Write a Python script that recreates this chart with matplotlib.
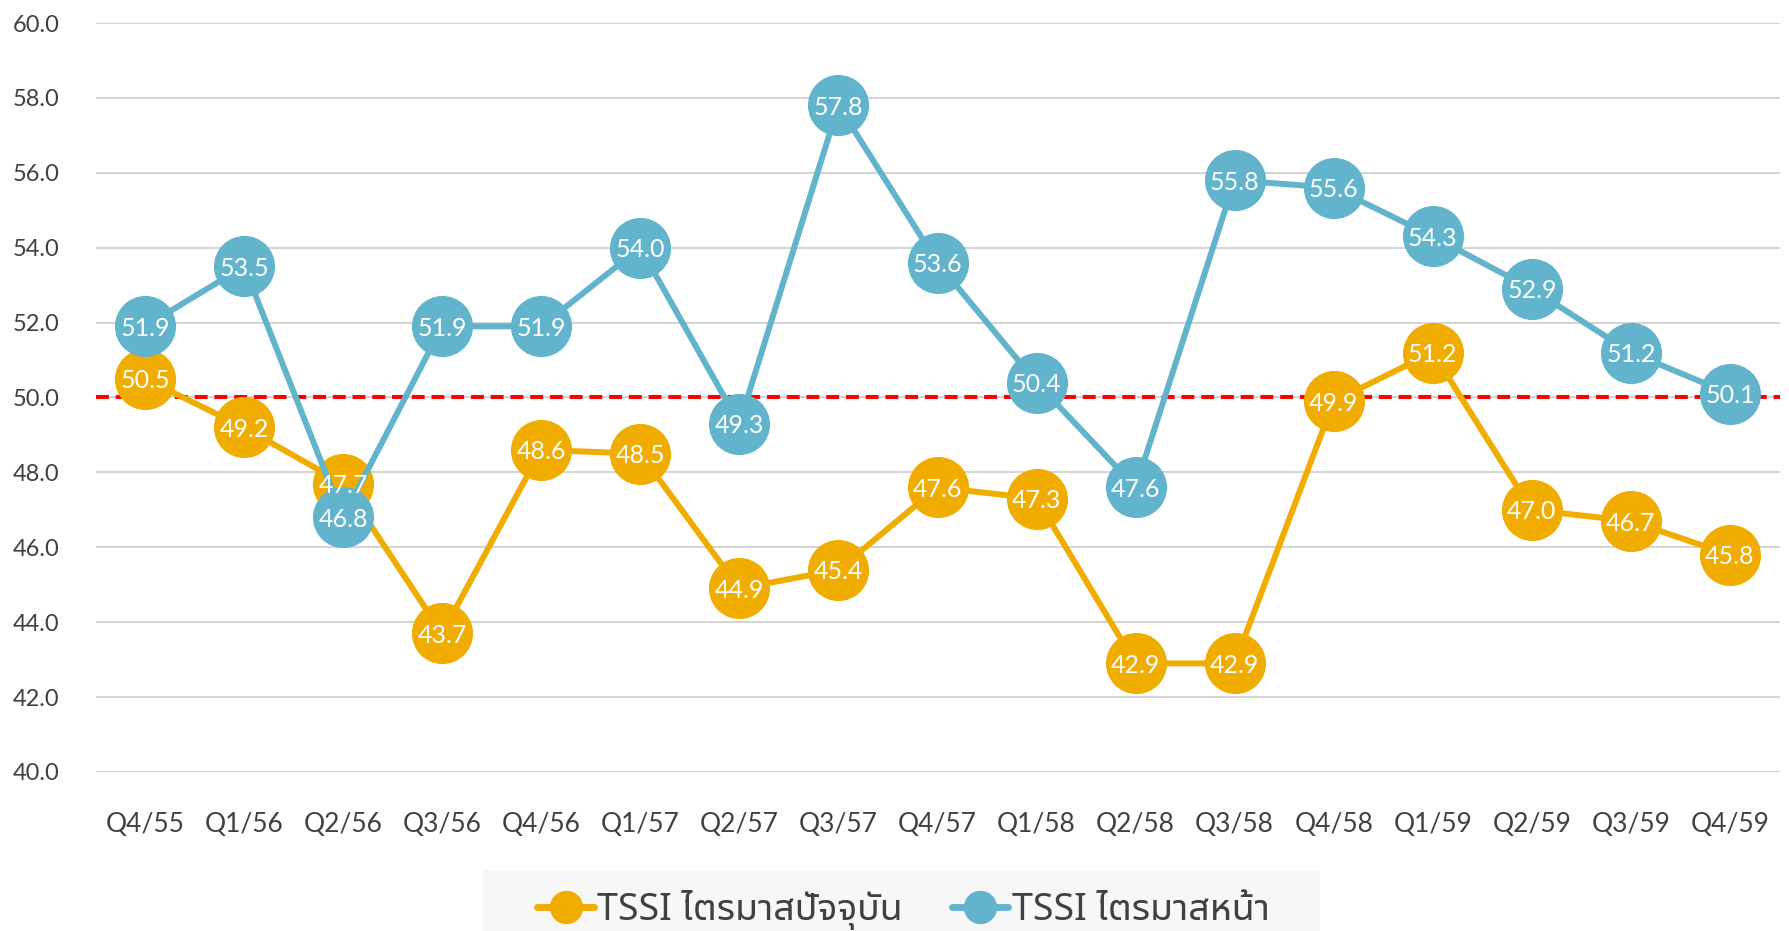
import matplotlib
matplotlib.use("Agg")
import matplotlib.pyplot as plt
from matplotlib.lines import Line2D
from matplotlib.patches import Rectangle

quarters = ["Q4/55", "Q1/56", "Q2/56", "Q3/56", "Q4/56", "Q1/57", "Q2/57", "Q3/57", "Q4/57",
            "Q1/58", "Q2/58", "Q3/58", "Q4/58", "Q1/59", "Q2/59", "Q3/59", "Q4/59"]
tssi_current = [50.5, 49.2, 47.7, 43.7, 48.6, 48.5, 44.9, 45.4, 47.6,
                47.3, 42.9, 42.9, 49.9, 51.2, 47.0, 46.7, 45.8]
tssi_next = [51.9, 53.5, 46.8, 51.9, 51.9, 54.0, 49.3, 57.8, 53.6,
             50.4, 47.6, 55.8, 55.6, 54.3, 52.9, 51.2, 50.1]
series_names = ["TSSI ไตรมาสปัจจุบัน", "TSSI ไตรมาสหน้า"]
threshold = 50.0

ORANGE = "#F0AD00"
BLUE = "#62B4CC"
TEXT = "#404040"
LATIN = ["Lato", "DejaVu Sans"]
THAI = ["Noto Sans", "Noto Sans Thai UI", "DejaVu Sans"]

W, H = 1789, 931
fig = plt.figure(figsize=(W / 100, H / 100), dpi=100)
ax = fig.add_axes([95.5 / W, 1 - 772 / H, (1779.5 - 95.5) / W, (772 - 23) / H])

x = list(range(len(quarters)))
ax.set_xlim(-0.5, len(quarters) - 0.5)
ax.set_ylim(40, 60)
yt = [40 + 2 * i for i in range(11)]
ax.set_yticks(yt, [f"{v:.1f}" for v in yt])
ax.set_xticks(x, quarters)
for s in ax.spines.values():
    s.set_visible(False)
ax.tick_params(axis="both", length=0, labelcolor=TEXT)
ax.tick_params(axis="y", pad=26, labelsize=17)
ax.tick_params(axis="x", pad=29, labelsize=19)
for lab in ax.get_xticklabels() + ax.get_yticklabels():
    lab.set_family(LATIN)
ax.grid(axis="y", color="#cccccc", linewidth=1.2, zorder=0)
ax.set_axisbelow(True)

ax.axhline(threshold, color="#FF0000", linewidth=2.9, dashes=(3.2, 1.7), zorder=1.5)

for vals, col, z in ((tssi_current, ORANGE, 2), (tssi_next, BLUE, 3)):
    ax.plot(x, vals, color=col, linewidth=4.3, marker="o", markersize=44,
            markeredgewidth=0, solid_capstyle="round", zorder=z)
for vals in (tssi_current, tssi_next):
    for xi, v in zip(x, vals):
        ax.text(xi, v, f"{v:.1f}", ha="center", va="center_baseline", color="white",
                fontsize=18, family=LATIN, zorder=6)

# legend panel
fig.patches.append(Rectangle((483 / W, 0), (1320 - 483) / W, 61 / H,
                             transform=fig.transFigure, facecolor="#F7F7F7",
                             edgecolor="none", zorder=0))
handles = [Line2D([], [], color=c, linewidth=5, marker="o", markersize=24,
                  markeredgewidth=0, solid_capstyle="round") for c in (ORANGE, BLUE)]
leg = fig.legend(handles, series_names, loc="center", bbox_to_anchor=(903.5 / W, 1 - 910 / H),
                 ncol=2, frameon=False, handlelength=1.5, handletextpad=0.1,
                 columnspacing=1.3, prop={"family": THAI, "size": 27})
for t in leg.get_texts():
    t.set_color(TEXT)

fig.savefig("out.png", dpi=100)
